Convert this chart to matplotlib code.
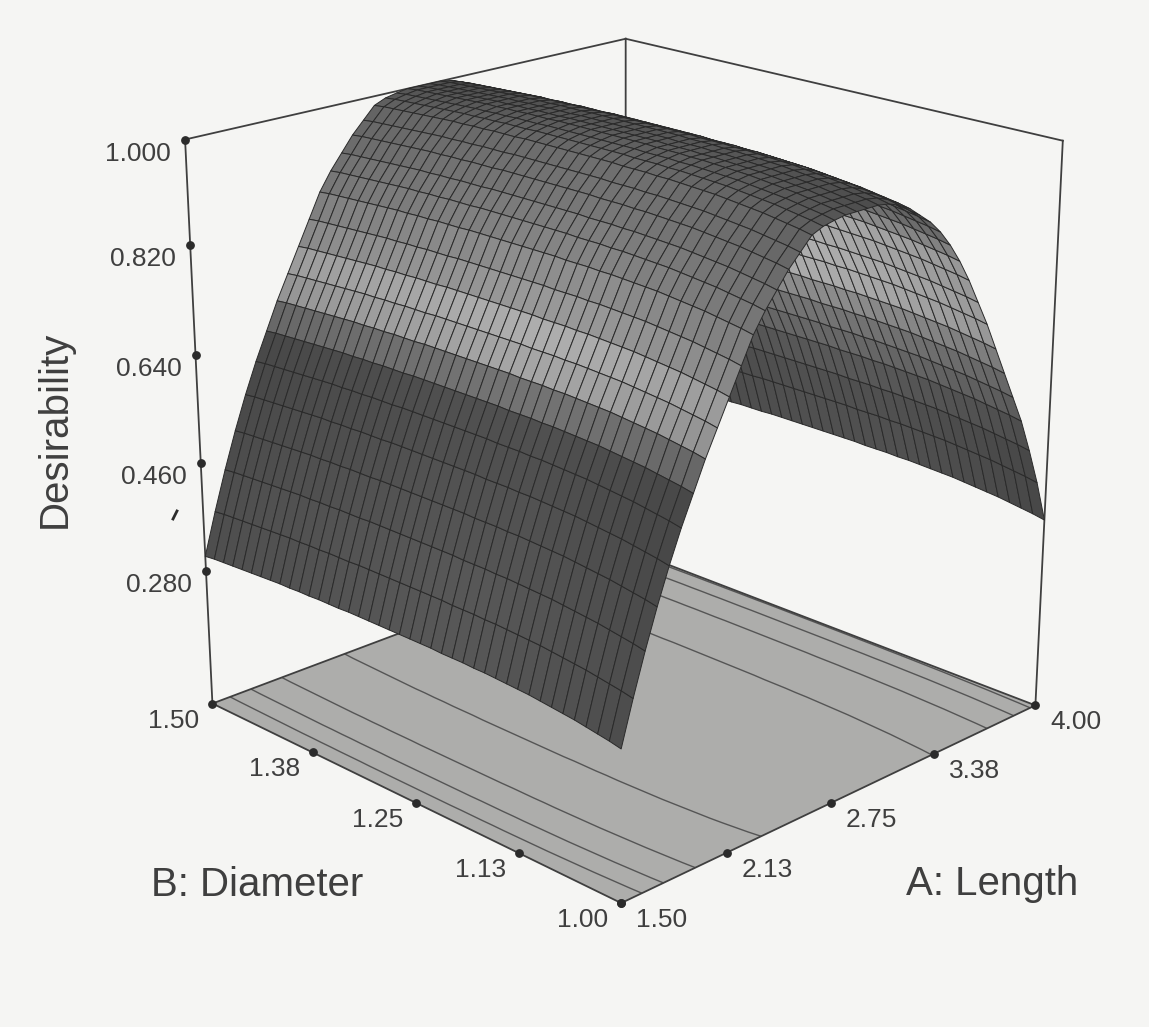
import numpy as np
import matplotlib
matplotlib.use("Agg")
import matplotlib.pyplot as plt
from matplotlib.lines import Line2D
from mpl_toolkits.mplot3d import proj3d

plt.rcParams["font.family"] = ["Liberation Sans", "DejaVu Sans"]

# tick labels
a_labels = ["1.50", "2.13", "2.75", "3.38", "4.00"]
b_labels = ["1.00", "1.13", "1.25", "1.38", "1.50"]
z_labels = ["0.280", "0.460", "0.640", "0.820", "1.000"]
# where the dots sit: the original spaces them evenly along each edge
a_marks = [1.5, 2.08, 2.685, 3.33, 4.0]
b_marks = [1.0, 1.113, 1.235, 1.365, 1.5]
z_marks = [0.29, 0.474, 0.654, 0.832, 1.0]
z_floor = 0.057

# desirability read along Length (41 mesh lines, 1.50 to 4.00)
profile_a = [
    0.29, 0.36, 0.425, 0.485, 0.54, 0.59, 0.635, 0.68, 0.72, 0.76,
    0.80, 0.84, 0.87, 0.895, 0.92, 0.94, 0.96, 0.968, 0.972, 0.975,
    0.975, 0.975, 0.975, 0.972, 0.965, 0.955, 0.94, 0.925, 0.905, 0.88,
    0.85, 0.815, 0.775, 0.735, 0.69, 0.645, 0.60, 0.555, 0.50, 0.44, 0.37,
]
# change with Diameter (41 mesh lines, 1.00 to 1.50)
offset_b = [
    0.01, 0.014, 0.017, 0.02, 0.023, 0.025, 0.027, 0.029, 0.031, 0.032,
    0.033, 0.034, 0.035, 0.035, 0.036, 0.036, 0.036, 0.037, 0.037, 0.037,
    0.037, 0.037, 0.037, 0.037, 0.037, 0.037, 0.036, 0.036, 0.036, 0.035,
    0.035, 0.034, 0.034, 0.033, 0.032, 0.031, 0.03, 0.029, 0.028, 0.027, 0.025,
]
# grey level of each Length strip
strip_grey = [
    84, 84, 82, 80, 78, 78, 112, 160, 168, 148,
    138, 128, 122, 116, 112, 108, 102, 96, 92, 90,
    86, 84, 86, 90, 94, 98, 102, 105, 115, 140,
    165, 165, 168, 165, 135, 112, 100, 85, 78, 78,
]
# brightness of each Diameter strip
strip_gain = [
    0.92, 0.93, 0.94, 0.95, 0.96, 0.97, 0.98, 0.99, 1.0, 1.0,
    1.01, 1.02, 1.02, 1.03, 1.03, 1.03, 1.03, 1.03, 1.03, 1.02,
    1.02, 1.02, 1.01, 1.01, 1.0, 1.0, 1.0, 0.99, 0.99, 0.98,
    0.98, 0.97, 0.97, 0.96, 0.96, 0.95, 0.95, 0.94, 0.94, 0.93,
]
contour_levels = [0.42, 0.53, 0.665, 0.89]

paper = "#f5f5f3"
ink = "#3f3f3f"

a_grid = np.linspace(1.5, 4.0, len(profile_a))
b_grid = np.linspace(1.0, 1.5, len(offset_b))
X, Y = np.meshgrid(a_grid, b_grid, indexing="ij")
Z = np.add.outer(np.array(profile_a), np.array(offset_b))

fig = plt.figure(figsize=(11.49, 10.27), dpi=100, facecolor=paper)
S = 1010
ax = fig.add_axes(
    [(610 - S / 2) / 1149, (1027 - 445 - S / 2) / 1027, S / 1149, S / 1027],
    projection="3d",
    computed_zorder=False,
)
ax.patch.set_alpha(0)
ax.set_axis_off()
ax.set_proj_type("persp", focal_length=0.59)
ax.view_init(elev=20.2, azim=-134.7)
ax.set_box_aspect((1, 1, 1.0))
ax.set_xlim(1.5, 4.0)
ax.set_ylim(1.0, 1.5)
ax.set_zlim(z_floor, 1.0)

# floor and its contours
floor_x = np.array([[1.5, 4.0], [1.5, 4.0]])
floor_y = np.array([[1.0, 1.0], [1.5, 1.5]])
floor_z = np.full((2, 2), z_floor)
ax.plot_surface(floor_x, floor_y, floor_z, color="#adadab", shade=False, zorder=1)
ax.contour(X, Y, Z, levels=contour_levels, zdir="z", offset=z_floor,
           colors="#555555", linewidths=1.0, zorder=2)

# box edges
def edge(p, q, zorder=3):
    ax.plot([p[0], q[0]], [p[1], q[1]], [p[2], q[2]], color=ink, lw=1.3, zorder=zorder)

edge((1.5, 1.5, z_floor), (1.5, 1.5, 1.0))
edge((4.0, 1.5, z_floor), (4.0, 1.5, 1.0))
edge((4.0, 1.0, z_floor), (4.0, 1.0, 1.0))
edge((1.5, 1.5, 1.0), (4.0, 1.5, 1.0))
edge((4.0, 1.5, 1.0), (4.0, 1.0, 1.0))
edge((1.5, 1.5, z_floor), (4.0, 1.5, z_floor))
edge((4.0, 1.5, z_floor), (4.0, 1.0, z_floor))
edge((1.5, 1.5, z_floor), (1.5, 1.0, z_floor), 5)
edge((1.5, 1.0, z_floor), (4.0, 1.0, z_floor), 5)

# the surface
grey = np.outer(np.array(strip_grey, dtype=float), np.array(strip_gain)) / 255.0
grey = np.clip(grey, 0, 1)
faces = np.ones((X.shape[0], X.shape[1], 4))
faces[:-1, :-1, 0] = grey
faces[:-1, :-1, 1] = grey
faces[:-1, :-1, 2] = grey
ax.plot_surface(X, Y, Z, facecolors=faces, rstride=1, cstride=1, shade=False,
                edgecolor="#2a2a2a", linewidth=0.7, zorder=4)

# tick dots
ax.scatter([1.5] * 5, [1.5] * 5, z_marks, color="#2b2b2b", s=28, depthshade=False, zorder=6)
ax.scatter([1.5] * 5, b_marks, [z_floor] * 5, color="#2b2b2b", s=28, depthshade=False, zorder=6)
ax.scatter(a_marks, [1.0] * 5, [z_floor] * 5, color="#2b2b2b", s=28, depthshade=False, zorder=6)

# tick labels
def label(x, y, z, text, dx, dy, ha):
    px, py, _ = proj3d.proj_transform(x, y, z, ax.get_proj())
    ax.annotate(text, (px, py), xytext=(dx, dy), textcoords="offset pixels",
                ha=ha, va="center", fontsize=19, color=ink)

for v, t in zip(z_marks, z_labels):
    label(1.5, 1.5, v, t, -14, -14, "right")
for v, t in zip(b_marks, b_labels):
    label(1.5, v, z_floor, t, -13, -17, "right")
for v, t in zip(a_marks, a_labels):
    label(v, 1.0, z_floor, t, 15, -17, "left")

fig.text(55 / 1149, 1 - 429 / 1027, "Desirability", rotation=90, ha="center", va="center",
         fontsize=29, color=ink)
fig.text(257 / 1149, 1 - 885 / 1027, "B: Diameter", ha="center", va="center",
         fontsize=29, color=ink)
fig.text(992 / 1149, 1 - 884 / 1027, "A: Length", ha="center", va="center",
         fontsize=29, color=ink)

# small speck left of the wall in the scan
fig.add_artist(Line2D([173 / 1149, 177 / 1149], [1 - 519 / 1027, 1 - 511 / 1027],
                      color="#2b2b2b", lw=2))

fig.savefig("out.png", dpi=100, facecolor=paper)
